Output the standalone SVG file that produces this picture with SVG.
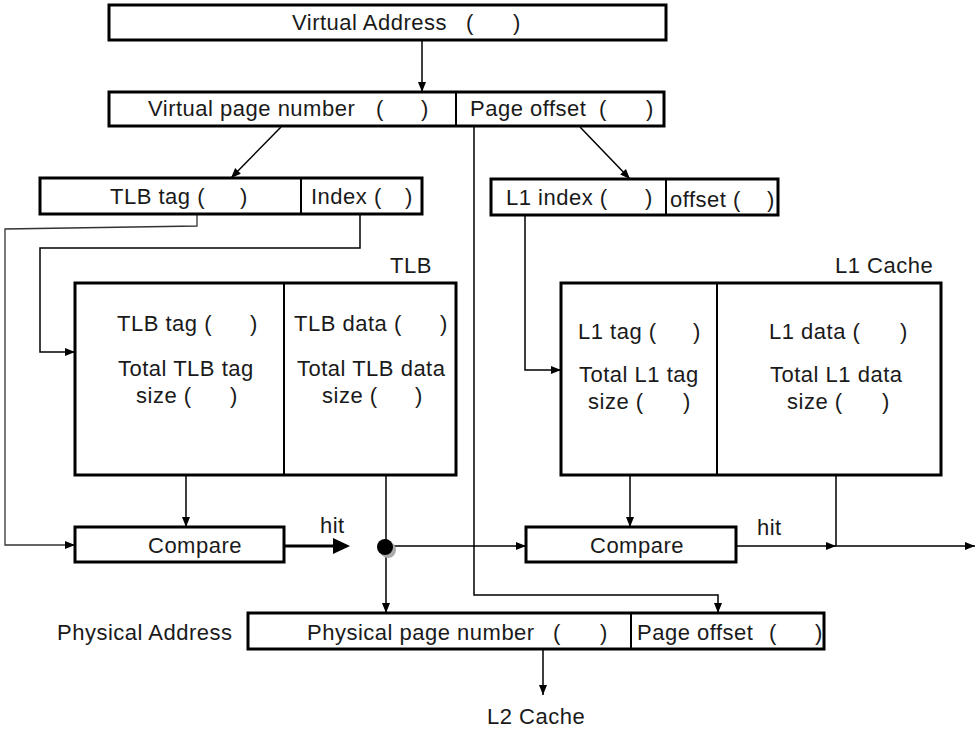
<svg xmlns="http://www.w3.org/2000/svg" width="980" height="730" viewBox="0 0 980 730">
<defs>
<marker id="ah" viewBox="0 0 10 10" refX="10" refY="5" markerWidth="10" markerHeight="10" markerUnits="userSpaceOnUse" orient="auto"><path d="M0,1 L10,5 L0,9 Z" fill="#000"/></marker>
</defs>
<style>
text{font-family:"Liberation Sans",Arial,sans-serif;font-size:22px;fill:#1a1a1a;letter-spacing:0.5px}
.box{fill:#fff;stroke:#000;stroke-width:3}
.div{stroke:#000;stroke-width:2}
.ln{fill:none;stroke:#000;stroke-width:1.5}
.gl{fill:none;stroke:#333;stroke-width:1.3}
</style>
<rect width="980" height="730" fill="#fff"/>
<g id="connectors">
<line class="ln" x1="422" y1="40" x2="422" y2="92" marker-end="url(#ah)"/>
<line class="ln" x1="281" y1="127" x2="231" y2="178" marker-end="url(#ah)"/>
<line class="ln" x1="580" y1="127" x2="630" y2="179" marker-end="url(#ah)"/>
<polyline class="ln" points="474,124 474,595 718,595 718,613" marker-end="url(#ah)"/>
<polyline class="gl" points="197,214 197,226 5,229 5,545 75,545" marker-end="url(#ah)"/>
<polyline class="ln" points="360,214 360,248 40,248 40,352 75,352" marker-end="url(#ah)"/>
<polyline class="ln" points="525,215 525,370 561,370" marker-end="url(#ah)"/>
<line class="ln" x1="186" y1="475" x2="186" y2="527" marker-end="url(#ah)"/>
<line class="ln" x1="630" y1="475" x2="630" y2="527" marker-end="url(#ah)"/>
<line x1="285" y1="546" x2="340" y2="546" stroke="#000" stroke-width="3"/>
<path d="M333,538 L350,546 L333,554 Z" fill="#000"/>
<line class="ln" x1="386" y1="475" x2="386" y2="613" marker-end="url(#ah)"/>
<line class="ln" x1="386" y1="546" x2="526" y2="546" marker-end="url(#ah)"/>
<circle cx="388" cy="550" r="8" fill="#aaa"/>
<circle cx="385" cy="547" r="8" fill="#000"/>
<line class="ln" x1="736" y1="546" x2="836" y2="546" marker-end="url(#ah)"/>
<polyline class="ln" points="836,475 836,546 975,546" marker-end="url(#ah)"/>
<line class="ln" x1="543" y1="649" x2="543" y2="695" marker-end="url(#ah)"/>
<text x="320" y="533">hit</text>
<text x="757" y="535">hit</text>
</g>
<g id="virtual-address">
<rect class="box" x="109" y="5" width="557" height="35"/>
<text y="30"><tspan x="292">Virtual Address</tspan><tspan x="466">(</tspan><tspan x="513">)</tspan></text>
</g>
<g id="vpn-offset">
<rect class="box" x="109" y="92" width="555" height="34"/>
<line class="div" x1="456" y1="92" x2="456" y2="126"/>
<text y="116"><tspan x="148">Virtual page number</tspan><tspan x="376">(</tspan><tspan x="421">)</tspan></text>
<text y="116"><tspan x="470">Page offset</tspan><tspan x="599">(</tspan><tspan x="646">)</tspan></text>
</g>
<g id="tlb-tag-index">
<rect class="box" x="40" y="178" width="382" height="36"/>
<line class="div" x1="301" y1="178" x2="301" y2="214"/>
<text y="204"><tspan x="110">TLB tag (</tspan><tspan x="240">)</tspan></text>
<text y="204"><tspan x="311">Index (</tspan><tspan x="405">)</tspan></text>
</g>
<g id="l1-index-offset">
<rect class="box" x="491" y="179" width="287" height="36"/>
<line class="div" x1="666" y1="179" x2="666" y2="215"/>
<text y="205"><tspan x="506">L1 index (</tspan><tspan x="645">)</tspan></text>
<text y="207"><tspan x="670">offset (</tspan><tspan x="767">)</tspan></text>
</g>
<g id="tlb">
<text x="390" y="273">TLB</text>
<rect class="box" x="75" y="283" width="381" height="192"/>
<line class="div" x1="284" y1="283" x2="284" y2="475"/>
<text y="331"><tspan x="117">TLB tag (</tspan><tspan x="250">)</tspan></text>
<text x="118" y="376">Total TLB tag</text>
<text y="403"><tspan x="136">size (</tspan><tspan x="230">)</tspan></text>
<text y="331"><tspan x="294">TLB data (</tspan><tspan x="440">)</tspan></text>
<text x="297" y="376">Total TLB data</text>
<text y="403"><tspan x="322">size (</tspan><tspan x="415">)</tspan></text>
</g>
<g id="l1-cache">
<text x="835" y="273">L1 Cache</text>
<rect class="box" x="561" y="283" width="380" height="192"/>
<line class="div" x1="717" y1="283" x2="717" y2="475"/>
<text y="339"><tspan x="578">L1 tag (</tspan><tspan x="693">)</tspan></text>
<text x="579" y="382">Total L1 tag</text>
<text y="409"><tspan x="588">size (</tspan><tspan x="683">)</tspan></text>
<text y="339"><tspan x="769">L1 data (</tspan><tspan x="900">)</tspan></text>
<text x="770" y="382">Total L1 data</text>
<text y="409"><tspan x="787">size (</tspan><tspan x="882">)</tspan></text>
</g>
<g id="tlb-compare">
<rect class="box" x="75" y="527" width="209" height="35"/>
<text x="148" y="553">Compare</text>
</g>
<g id="l1-compare">
<rect class="box" x="526" y="527" width="210" height="35"/>
<text x="590" y="553">Compare</text>
</g>
<g id="physical-address">
<text x="57" y="640">Physical Address</text>
<rect class="box" x="248" y="613" width="576" height="36"/>
<line class="div" x1="631" y1="613" x2="631" y2="649"/>
<text y="640"><tspan x="307">Physical page number</tspan><tspan x="553">(</tspan><tspan x="600">)</tspan></text>
<text y="640"><tspan x="637">Page offset</tspan><tspan x="769">(</tspan><tspan x="815">)</tspan></text>
</g>
<g id="l2-cache">
<text x="487" y="724">L2 Cache</text>
</g>
</svg>
